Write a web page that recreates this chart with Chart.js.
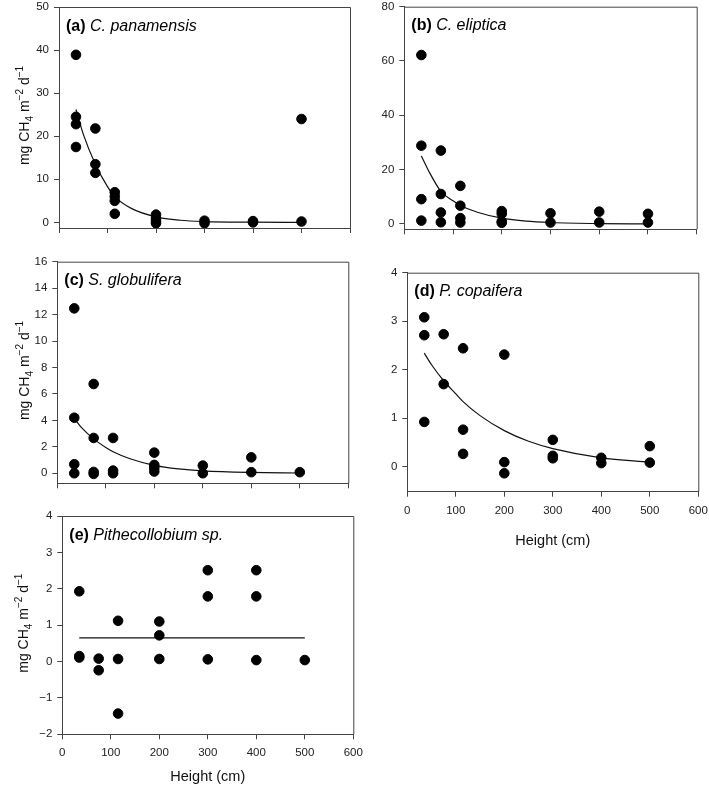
<!DOCTYPE html>
<html>
<head>
<meta charset="utf-8">
<script src="https://cdn.jsdelivr.net/npm/chart.js@4.4.1/dist/chart.umd.min.js"></script>
<style>
  body { margin: 0; background: #fff; }
  #wrap { position: relative; width: 709px; height: 786px; }
  canvas { position: absolute; }
</style>
</head>
<body>
<div id="wrap"></div>
<script>
// sampling heights (cm) and CH4 flux per panel
const aX = [35, 35, 35, 35, 75, 75, 75, 115, 115, 115, 115, 200, 200, 200, 200, 300, 300, 400, 400, 500, 500];
const aY = [38.9, 24.5, 22.8, 17.5, 21.8, 13.5, 11.5, 7.0, 6.0, 5.0, 2.0, 1.8, 0.9, 0.3, -0.2, 0.4, -0.2, 0.3, 0.0, 24.0, 0.2];
const aFitX = [35, 50, 75, 100, 115, 150, 200, 250, 300, 400, 500];
const aFitY = [26.2, 20.5, 13.5, 8.3, 6.0, 3.2, 1.3, 0.5, 0.2, 0.05, 0.0];

const bX = [35, 35, 35, 35, 75, 75, 75, 75, 115, 115, 115, 115, 200, 200, 200, 200, 300, 300, 400, 400, 500, 500];
const bY = [62.2, 28.8, 9.1, 1.2, 27.0, 11.0, 4.2, 0.6, 14.0, 6.7, 2.1, 0.5, 4.7, 3.7, 0.9, 0.4, 3.9, 0.5, 4.5, 0.5, 3.7, 0.5];
const bFitX = [35, 50, 75, 100, 115, 150, 200, 250, 300, 400, 500];
const bFitY = [25, 19.5, 12, 8.5, 6.8, 4.3, 2.1, 1.0, 0.5, 0.1, 0.0];

const cX = [35, 35, 35, 35, 75, 75, 75, 75, 115, 115, 115, 200, 200, 200, 200, 300, 300, 400, 400, 500];
const cY = [12.47, 4.2, 0.68, 0.0, 6.75, 2.67, 0.1, -0.05, 2.67, 0.2, 0.0, 1.56, 0.63, 0.4, 0.13, 0.58, 0.0, 1.2, 0.08, 0.08];
const cFitX = [35, 50, 75, 100, 115, 150, 200, 250, 300, 400, 500];
const cFitY = [4.15, 3.45, 2.6, 1.95, 1.63, 1.1, 0.6, 0.33, 0.18, 0.06, 0.02];

const dX = [35, 35, 35, 75, 75, 115, 115, 115, 200, 200, 200, 300, 300, 300, 400, 400, 500, 500];
const dY = [3.08, 2.71, 0.92, 2.73, 1.70, 2.44, 0.76, 0.26, 2.31, 0.09, -0.14, 0.55, 0.22, 0.17, 0.18, 0.07, 0.42, 0.08];
const dFitX = [35, 50, 75, 100, 115, 150, 200, 250, 300, 400, 500];
const dFitY = [2.34, 2.1, 1.77, 1.5, 1.34, 1.05, 0.74, 0.52, 0.37, 0.18, 0.09];

const eX = [35, 35, 35, 75, 75, 115, 115, 115, 200, 200, 200, 300, 300, 300, 400, 400, 400, 500];
const eY = [1.93, 0.15, 0.11, 0.08, -0.24, 1.12, 0.07, -1.43, 1.1, 0.72, 0.07, 2.51, 1.79, 0.06, 2.51, 1.79, 0.04, 0.04];
const eFitX = [35, 500];
const eFitY = [0.65, 0.65];

const xTicks = [0, 100, 200, 300, 400, 500, 600];
const letters = ["(a)", "(b)", "(c)", "(d)", "(e)"];
const species = ["C. panamensis", "C. eliptica", "S. globulifera", "P. copaifera", "Pithecollobium sp."];

const ARIAL = "Arial, 'Liberation Sans', sans-serif";
const AXIS = "#444";

// canvas box + plot box (page px)
const panels = [
  { x: aX, y: aY, fx: aFitX, fy: aFitY, yMin: -1.3, yMax: 50, step: 10,
    box: [0, 0, 360, 245], plot: [59, 7, 350, 228], yTitle: 29, xLabels: false },
  { x: bX, y: bY, fx: bFitX, fy: bFitY, yMin: -2, yMax: 80, step: 20,
    box: [350, 0, 359, 245], plot: [404.3, 6.7, 696.7, 229.3], yTitle: null, xLabels: false },
  { x: cX, y: cY, fx: cFitX, fy: cFitY, yMin: -0.76, yMax: 16, step: 2,
    box: [0, 245, 360, 260], plot: [57.3, 261.7, 348.3, 483.3], yTitle: 29, xLabels: false },
  { x: dX, y: dY, fx: dFitX, fy: dFitY, yMin: -0.52, yMax: 4, step: 1,
    box: [350, 245, 359, 310], plot: [407.3, 272.7, 698.3, 491.7], yTitle: null, xLabels: true, titlePad: 5 },
  { x: eX, y: eY, fx: eFitX, fy: eFitY, yMin: -2, yMax: 4, step: 1,
    box: [0, 500, 375, 286], plot: [62.3, 516, 353.3, 734.3], yTitle: 28, xLabels: true, titlePad: 0 },
];

const fmt = (v) => (v < 0 ? "\u2212" + Math.abs(v) : "" + v);

const framePlugin = {
  id: "frame",
  afterDraw(chart, args, opts) {
    const { ctx, chartArea: ca } = chart;
    ctx.save();
    ctx.strokeStyle = AXIS;
    ctx.lineWidth = 1;
    ctx.beginPath();
    ctx.moveTo(ca.left, ca.top + 0.5);
    ctx.lineTo(ca.right + 0.5, ca.top + 0.5);
    ctx.lineTo(ca.right + 0.5, ca.bottom);
    ctx.stroke();

    // panel label
    ctx.fillStyle = "#000";
    ctx.textBaseline = "alphabetic";
    ctx.font = "bold 16px " + ARIAL;
    const lx = ca.left + 7;
    const ly = ca.top + 23.5;
    ctx.fillText(opts.letter, lx, ly);
    const w = ctx.measureText(opts.letter + " ").width;
    ctx.font = "italic 16px " + ARIAL;
    ctx.fillText(opts.species, lx + w, ly);

    // y axis title with sub/superscripts
    if (opts.yTitle != null) {
      const parts = [
        { t: "mg CH", s: 14, dy: 0 },
        { t: "4", s: 10, dy: 3.5 },
        { t: " m", s: 14, dy: 0 },
        { t: "\u22122", s: 10, dy: -6 },
        { t: " d", s: 14, dy: 0 },
        { t: "\u22121", s: 10, dy: -6 },
      ];
      let total = 0;
      parts.forEach((p) => {
        ctx.font = p.s + "px " + ARIAL;
        p.w = ctx.measureText(p.t).width;
        total += p.w;
      });
      ctx.translate(opts.yTitle, (ca.top + ca.bottom) / 2 - 2);
      ctx.rotate(-Math.PI / 2);
      let px = -total / 2;
      ctx.fillStyle = "#111";
      parts.forEach((p) => {
        ctx.font = p.s + "px " + ARIAL;
        ctx.fillText(p.t, px, p.dy);
        px += p.w;
      });
    }
    ctx.restore();
  },
};

const wrap = document.getElementById("wrap");

panels.forEach((p, i) => {
  const [bx, by, bw, bh] = p.box;
  const [pl, pt, pr, pb] = p.plot;
  const cv = document.createElement("canvas");
  cv.width = bw;
  cv.height = bh;
  cv.style.left = bx + "px";
  cv.style.top = by + "px";
  cv.style.width = bw + "px";
  cv.style.height = bh + "px";
  wrap.appendChild(cv);

  const points = p.x.map((v, k) => ({ x: v, y: p.y[k] }));
  const fit = p.fx.map((v, k) => ({ x: v, y: p.fy[k] }));

  new Chart(cv.getContext("2d"), {
    type: "scatter",
    data: {
      datasets: [
        {
          data: fit,
          showLine: true,
          borderColor: "#111",
          borderWidth: 1.2,
          pointRadius: 0,
          cubicInterpolationMode: "monotone",
          order: 2,
        },
        {
          data: points,
          backgroundColor: "#000",
          borderColor: "#000",
          pointRadius: 4.8,
          pointHoverRadius: 4.8,
          order: 1,
        },
      ],
    },
    options: {
      responsive: false,
      animation: false,
      events: [],
      layout: {
        padding: { left: 0, top: pt - by, right: bx + bw - pr, bottom: 0 },
      },
      plugins: {
        legend: { display: false },
        tooltip: { enabled: false },
        frame: { letter: letters[i], species: species[i], yTitle: p.yTitle != null ? p.yTitle - bx : null },
      },
      scales: {
        x: {
          type: "linear",
          min: 0,
          max: 600,
          afterBuildTicks: (s) => { s.ticks = xTicks.map((v) => ({ value: v })); },
          afterFit: (s) => {
            s.height = by + bh - pb;
            s.paddingLeft = 0;
            s.paddingRight = 0;
          },
          border: { color: AXIS, width: 1 },
          grid: { drawOnChartArea: false, tickLength: 5, color: AXIS },
          ticks: {
            display: p.xLabels,
            padding: 7,
            color: "#222",
            font: { family: ARIAL, size: 11.5 },
            maxRotation: 0,
          },
          title: {
            display: p.xLabels,
            text: "Height (cm)",
            color: "#111",
            font: { family: ARIAL, size: 14.5 },
            padding: { top: 0, bottom: p.titlePad || 0 },
          },
        },
        y: {
          type: "linear",
          min: p.yMin,
          max: p.yMax,
          afterFit: (s) => {
            s.width = pl - bx;
            s.paddingTop = 0;
            s.paddingBottom = 0;
          },
          border: { color: AXIS, width: 1 },
          grid: { drawOnChartArea: false, tickLength: 5, color: AXIS },
          ticks: {
            stepSize: p.step,
            includeBounds: false,
            padding: 5,
            color: "#222",
            font: { family: ARIAL, size: 11.5 },
            callback: (v) => fmt(v),
          },
        },
      },
    },
    plugins: [framePlugin],
  });
});
</script>
</body>
</html>
